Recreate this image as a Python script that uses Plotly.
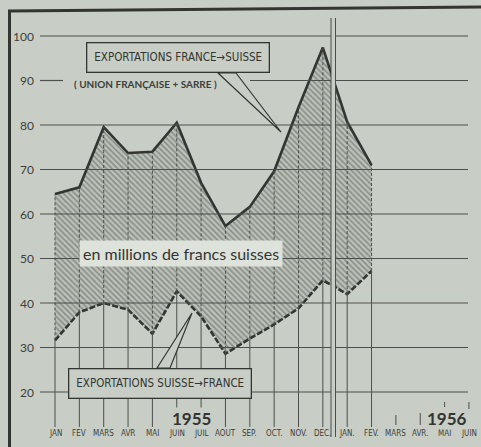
import plotly.graph_objects as go

# ---------------- data ----------------
months = ["JAN", "FEV", "MARS", "AVR", "MAI", "JUIN", "JUIL", "AOUT", "SEP.", "OCT.",
          "NOV.", "DEC.", "JAN.", "FEV.", "MARS", "AVR.", "MAI", "JUIN"]
exports_fr_ch = [64.5, 66, 79.5, 73.7, 74, 80.5, 67, 57.3, 61.6, 69.6, 84, 97.4, 80.7, 71]
exports_ch_fr = [31.6, 37.9, 40, 38.5, 33.1, 42.6, 37, 28.6, 32, 35.2, 38.8, 45.1, 42, 47.2]
y_ticks = [100, 90, 80, 70, 60, 50, 40, 30, 20]

# ---------------- geometry helpers ----------------
W, H = 481, 447
X0, DX = 55, 24.35       # pixel of first month, pixel per month
Y100, DY = 36, 4.45      # pixel of value 100, pixel per unit

def px2x(px):
    return (px - X0) / DX

def py2v(py):
    return 100 - (py - Y100) / DY

def pxp(px):
    return px / W

def pyp(py):
    return 1 - py / H

BG = "#c8cec5"
INK = "#333532"
GRID = "#4c4f4b"

n = len(exports_fr_ch)
xs = list(range(n))

fig = go.Figure()
fig.add_trace(go.Scatter(
    x=xs, y=exports_ch_fr, mode="lines",
    line=dict(color=INK, width=2.6, dash="6px,2px"),
    hoverinfo="skip", showlegend=False))
fig.add_trace(go.Scatter(
    x=xs, y=exports_fr_ch, mode="lines", fill="tonexty",
    fillcolor="rgba(0,0,0,0)",
    fillpattern=dict(shape="\\", fgcolor="#555953", bgcolor="#bcc2b9",
                     size=4, solidity=0.4),
    line=dict(color=INK, width=2.6),
    hoverinfo="skip", showlegend=False))

shapes = []
# frame
shapes.append(dict(type="line", xref="paper", yref="paper",
                   x0=pxp(9.5), y0=pyp(10), x1=pxp(9.5), y1=pyp(H + 5),
                   line=dict(color=INK, width=3)))
shapes.append(dict(type="line", xref="paper", yref="paper",
                   x0=pxp(8), y0=pyp(11), x1=pxp(W + 2), y1=pyp(7),
                   line=dict(color=INK, width=3)))

# horizontal grid lines
for v in y_ticks:
    segs = [(40, 63), (250, 468)] if v == 90 else [(40, 468)]
    for a, b in segs:
        shapes.append(dict(type="line", xref="x", yref="y",
                           x0=px2x(a), x1=px2x(b), y0=v, y1=v,
                           line=dict(color=GRID, width=1.2), layer="above"))

# vertical month lines
y_bottom = py2v(427)
for i in range(n):
    shapes.append(dict(type="line", xref="x", yref="y",
                       x0=i, x1=i, y0=y_bottom, y1=exports_ch_fr[i],
                       line=dict(color=GRID, width=1), layer="above"))
    shapes.append(dict(type="line", xref="x", yref="y",
                       x0=i, x1=i, y0=exports_ch_fr[i], y1=exports_fr_ch[i],
                       line=dict(color=GRID, width=1, dash="3px,2px"), layer="above"))

# short ticks for the remaining 1956 months
for i, (a, b) in zip(range(n, len(months)), [(415, 425), (413, 425), (402, 407), (402, 409)]):
    shapes.append(dict(type="line", xref="x", yref="y",
                       x0=i, x1=i, y0=py2v(b), y1=py2v(a),
                       line=dict(color=GRID, width=1), layer="above"))

# double line separating years
shapes.append(dict(type="rect", xref="x", yref="y",
                   x0=px2x(331), x1=px2x(335.5), y0=py2v(437), y1=py2v(18),
                   fillcolor=BG, line=dict(width=0), layer="above"))
for px in (331, 335.5):
    shapes.append(dict(type="line", xref="x", yref="y",
                       x0=px2x(px), x1=px2x(px), y0=py2v(437), y1=py2v(18),
                       line=dict(color=GRID, width=1), layer="above"))

# callout pointers
for (ax, ay), (bx, by), (tx, ty) in [((218, 73), (236, 73), (281, 132)),
                                      ((157, 368), (170, 368), (192, 313))]:
    shapes.append(dict(type="path", xref="paper", yref="paper",
                       path=f"M {pxp(ax)},{pyp(ay)} L {pxp(tx)},{pyp(ty)} L {pxp(bx)},{pyp(by)} Z",
                       fillcolor=BG, line=dict(color=INK, width=1.2), layer="above"))

annotations = []
# y tick labels
for v in y_ticks:
    annotations.append(dict(xref="paper", yref="y", x=pxp(36), y=v,
                            text=str(v), showarrow=False, xanchor="right", yanchor="middle",
                            font=dict(family="Lato, Noto Sans, sans-serif", size=12, color="#3c3e3b")))
# month labels
for i, m in enumerate(months):
    annotations.append(dict(xref="x", yref="paper", x=i, y=pyp(433),
                            text=m, showarrow=False, xanchor="center", yanchor="middle",
                            font=dict(family="Liberation Sans Narrow, DejaVu Sans Condensed, sans-serif",
                                      size=8, color="#3c3e3b")))
# year labels
for label, cx in [("1955", 191), ("1956", 446.5)]:
    annotations.append(dict(xref="paper", yref="paper", x=pxp(cx), y=pyp(418),
                            text=f"<b>{label}</b>", showarrow=False, xanchor="center", yanchor="middle",
                            bgcolor=BG, borderpad=0,
                            font=dict(family="Lato, Noto Sans, sans-serif", size=17, color="#333532")))
# boxes
box_font = dict(family="Liberation Sans Narrow, DejaVu Sans Condensed, sans-serif", size=11.5, color="#333532")
annotations.append(dict(xref="paper", yref="paper", x=pxp(177.5), y=pyp(58),
                        text="EXPORTATIONS FRANCE→SUISSE", showarrow=False,
                        xanchor="center", yanchor="middle", bgcolor=BG,
                        bordercolor=INK, borderwidth=1.3, borderpad=7, font=box_font))
annotations.append(dict(xref="paper", yref="paper", x=pxp(159.5), y=pyp(383),
                        text="EXPORTATIONS SUISSE→FRANCE", showarrow=False,
                        xanchor="center", yanchor="middle", bgcolor=BG,
                        bordercolor=INK, borderwidth=1.3, borderpad=7, font=box_font))
annotations.append(dict(xref="paper", yref="paper", x=pxp(145), y=pyp(84),
                        text="<b>( UNION FRANÇAISE + SARRE )</b>", showarrow=False,
                        xanchor="center", yanchor="middle",
                        font=dict(family="Lato, Noto Sans, sans-serif", size=10, color="#3c3e3b")))
annotations.append(dict(xref="paper", yref="paper", x=pxp(181), y=pyp(253),
                        text="en millions de francs suisses", showarrow=False,
                        xanchor="center", yanchor="middle", bgcolor="#dde2da", borderpad=3,
                        font=dict(family="Lato, Noto Sans, sans-serif", size=16, color="#333532")))

fig.update_layout(
    width=W, height=H,
    margin=dict(l=0, r=0, t=0, b=0),
    paper_bgcolor=BG, plot_bgcolor=BG,
    xaxis=dict(range=[px2x(0), px2x(W)], visible=False, fixedrange=True),
    yaxis=dict(range=[py2v(H), py2v(0)], visible=False, fixedrange=True),
    shapes=shapes, annotations=annotations, showlegend=False,
)

fig.write_html("out.html", config={"displayModeBar": False},
               post_script="document.body.style.margin='0';document.body.style.padding='0';"
                           "document.body.style.overflow='hidden';")
